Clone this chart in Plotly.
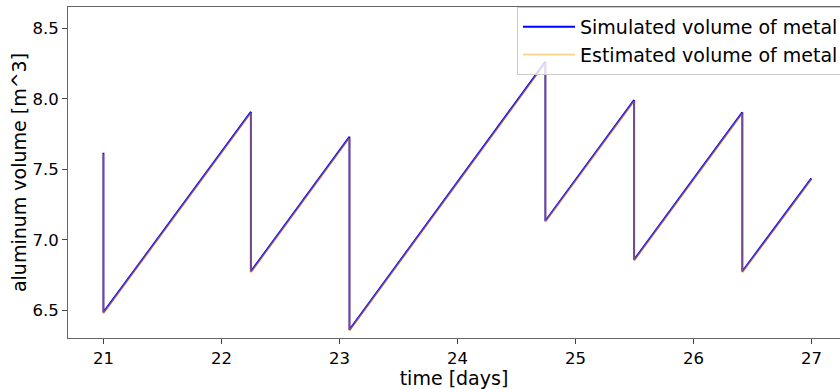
import plotly.graph_objects as go

# Aluminium volume in the furnace over time (sawtooth: steady growth, tapping drops)
time_sim = [21.0, 21.0, 22.25, 22.25, 23.085, 23.085, 24.745, 24.745,
            25.497, 25.497, 26.414, 26.414, 27.0]
volume_sim = [7.617, 6.486, 7.907, 6.776, 7.730, 6.363, 8.261, 7.134,
              7.990, 6.859, 7.903, 6.776, 7.436]

time_est = [21.0, 21.0, 22.25, 22.25, 23.085, 23.085, 24.745, 24.745,
            25.497, 25.497, 26.414, 26.414, 27.0]
volume_est = [7.608, 6.478, 7.899, 6.768, 7.722, 6.355, 8.253, 7.126,
              7.982, 6.851, 7.895, 6.768, 7.428]

x_ticks = [21, 22, 23, 24, 25, 26, 27]
y_ticks = [6.5, 7.0, 7.5, 8.0, 8.5]

FONT = "DejaVu Sans"
TICK_SIZE = 16.5
LABEL_SIZE = 19

fig = go.Figure()
fig.add_trace(go.Scatter(
    x=time_sim, y=volume_sim, mode="lines",
    name="Simulated volume of metal",
    line=dict(color="#0000FF", width=2),
))
fig.add_trace(go.Scatter(
    x=time_est, y=volume_est, mode="lines",
    name="Estimated volume of metal",
    line=dict(color="rgba(255,165,0,0.45)", width=2),
))

axis_common = dict(
    showgrid=False, zeroline=False,
    showline=True, linecolor="#666666", linewidth=1, mirror=True,
    ticks="outside", ticklen=5, tickwidth=1, tickcolor="#444444",
    tickfont=dict(family=FONT, size=TICK_SIZE, color="#000000"),
)

fig.update_layout(
    width=840, height=389,
    margin=dict(l=68, r=0, t=7, b=51, autoexpand=False),
    paper_bgcolor="white", plot_bgcolor="white",
    font=dict(family=FONT, size=TICK_SIZE, color="#000000"),
    xaxis=dict(
        range=[20.7, 27.242], tickvals=x_ticks,
        ticktext=[str(v) for v in x_ticks],
        title=dict(text="time [days]", font=dict(family=FONT, size=LABEL_SIZE), standoff=0),
        **axis_common,
    ),
    yaxis=dict(
        range=[6.305, 8.65], tickvals=y_ticks,
        ticktext=[f"{v:.1f}" for v in y_ticks],
        title=dict(text="aluminum volume [m^3]", font=dict(family=FONT, size=LABEL_SIZE), standoff=0),
        **axis_common,
    ),
    legend=dict(
        x=0.5816, y=1.0, xanchor="left", yanchor="top",
        bgcolor="rgba(255,255,255,0.8)", bordercolor="#cccccc", borderwidth=1,
        font=dict(family=FONT, size=LABEL_SIZE),
        itemwidth=52,
        tracegroupgap=0,
    ),
    showlegend=True,
)

fig.write_html("out.html")
